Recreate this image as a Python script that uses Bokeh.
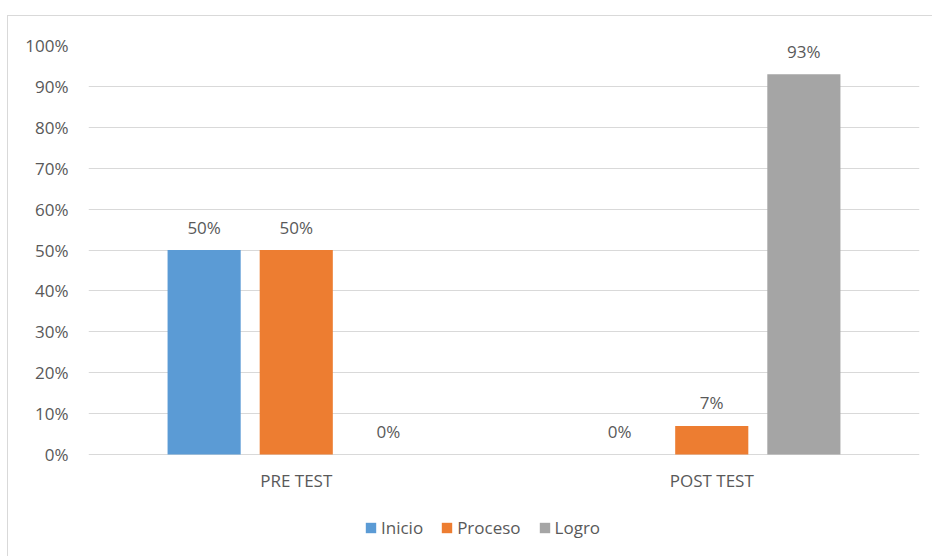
from bokeh.plotting import figure
from bokeh.models import (ColumnDataSource, FactorRange, Legend, LegendItem,
                          NumeralTickFormatter, Range1d, FixedTicker)
from bokeh.transform import dodge
from bokeh.core.properties import value
from bokeh.embed import file_html
from bokeh.resources import INLINE

categories = ["PRE TEST", "POST TEST"]
series = ["Inicio", "Proceso", "Logro"]
inicio = [0.50, 0.00]
proceso = [0.50, 0.07]
logro = [0.00, 0.93]
colors = ["#5B9BD5", "#ED7D31", "#A5A5A5"]
y_ticks = [0.0, 0.1, 0.2, 0.3, 0.4, 0.5, 0.6, 0.7, 0.8, 0.9, 1.0]

FONT = "Open Sans"
FS = "17px"
TXT = "#595959"

src = ColumnDataSource(dict(
    cat=categories, Inicio=inicio, Proceso=proceso, Logro=logro,
    Inicio_lbl=[f"{round(v*100)}%" for v in inicio],
    Proceso_lbl=[f"{round(v*100)}%" for v in proceso],
    Logro_lbl=[f"{round(v*100)}%" for v in logro],
    zero=[0.0] * len(categories),
))

# frame extends below 0 to host the category labels and legend
p = figure(width=925, height=541, x_range=FactorRange(*categories),
           y_range=Range1d(-0.2347, 1.0), output_backend="svg",
           toolbar_location=None,
           min_border_left=80, min_border_right=14, min_border_top=29,
           min_border_bottom=7, margin=(15, 0, 0, 7),
           styles={"border-top": "1px solid #D9D9D9",
                   "border-left": "1px solid #D9D9D9",
                   "box-sizing": "border-box"})

p.outline_line_color = None
p.xgrid.grid_line_color = None
p.ygrid.grid_line_color = "#D9D9D9"
p.ygrid.grid_line_width = 1
p.xaxis.visible = False

p.yaxis.ticker = FixedTicker(ticks=y_ticks)
p.yaxis.formatter = NumeralTickFormatter(format="0%")
p.yaxis.axis_line_color = None
p.yaxis.major_tick_line_color = None
p.yaxis.minor_tick_line_color = None
p.yaxis.major_label_text_font = FONT
p.yaxis.major_label_text_font_size = FS
p.yaxis.major_label_text_color = TXT
p.yaxis.major_label_standoff = 14

offsets = [-0.2217, 0.0, 0.2217]
width = 0.176
items = []
for s, off, c in zip(series, offsets, colors):
    r = p.vbar(x=dodge("cat", off, range=p.x_range), top=s, width=width,
               source=src, fill_color=c, line_color=None)
    p.text(x=dodge("cat", off, range=p.x_range), y=s, text=s + "_lbl", source=src,
           text_font=value(FONT), text_font_size=FS, text_color=TXT,
           text_align="center", text_baseline="middle", y_offset=-23)
    items.append(LegendItem(label=s, renderers=[r]))

# category labels (x axis)
p.text(x="cat", y="zero", text="cat", source=src, text_font=value(FONT),
       text_font_size=FS, text_color=TXT, text_align="center",
       text_baseline="middle", y_offset=26)

legend = Legend(items=items, orientation="horizontal", location=(276, 11),
                label_text_font=FONT, label_text_font_size=FS,
                label_text_color=TXT, glyph_width=13, glyph_height=13,
                label_standoff=4, spacing=17, border_line_color=None,
                background_fill_alpha=0, margin=0, padding=0)
p.add_layout(legend)

open("out.html", "w").write(file_html(p, INLINE))
